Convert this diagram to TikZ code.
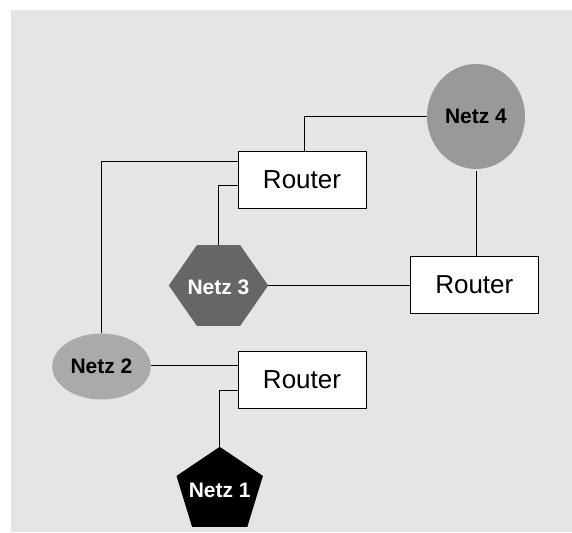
\documentclass[tikz,border=0pt]{standalone}
\usepackage{fontspec}
\setmainfont{Liberation Sans}
\usetikzlibrary{shapes.geometric,calc}
\definecolor{bggray}{HTML}{E5E5E5}
\definecolor{netzA}{HTML}{999999}
\definecolor{netzB}{HTML}{AAAAAA}
\definecolor{netzC}{HTML}{666666}
\tikzset{
  router/.style={draw=black, line width=0.9pt, fill=white, minimum width=128pt,
    minimum height=57pt, inner sep=0pt, font=\fontsize{26}{28}\selectfont},
  netzlabel/.style={font=\bfseries\fontsize{21}{23}\selectfont, inner sep=0pt},
  frame/.style={rectangle, inner sep=0pt},
  wire/.style={draw=black, line width=0.9pt}
}
\begin{document}
\begin{tikzpicture}[x=1pt,y=-1pt]
\useasboundingbox (0,0) rectangle (572,532);
\fill[bggray] (11,10.5) rectangle (572,532);

% routers
\node[router] (r1) at (302,179.5) {Router};
\node[router] (r2) at (474.3,285) {Router};
\node[router] (r3) at (302,380) {Router};

% Netz 4: round network
\node[ellipse, fill=netzA, minimum width=98pt, minimum height=105pt, inner sep=0pt,
      netzlabel] (n4) at (476,116.5) {Netz 4};

% Netz 2: oval network
\node[ellipse, fill=netzB, minimum width=98.5pt, minimum height=66pt, inner sep=0pt,
      netzlabel] (n2) at (101.5,366.5) {Netz 2};

% Netz 3: hexagon
\node[frame, minimum width=99pt, minimum height=80.5pt] (n3) at (218.5,285.5) {};
\fill[netzC] (n3.west) -- ($(n3.north west)!0.283!(n3.north east)$)
  -- ($(n3.north west)!0.717!(n3.north east)$) -- (n3.east)
  -- ($(n3.south west)!0.717!(n3.south east)$)
  -- ($(n3.south west)!0.283!(n3.south east)$) -- cycle;
\node[netzlabel, text=white] (t3) at ([yshift=-1.5pt]n3.center) {Netz 3};

% Netz 1: pentagon
\node[frame, minimum width=86pt, minimum height=79.6pt] (n1) at (219.7,486.8) {};
\fill[black] (n1.north)
  -- ($(n1.north east)!0.364!(n1.south east)$)
  -- ($(n1.south west)!0.82!(n1.south east)$)
  -- ($(n1.south west)!0.18!(n1.south east)$)
  -- ($(n1.north west)!0.364!(n1.south west)$) -- cycle;
\node[netzlabel, text=white] (t1) at ([yshift=-4pt]n1.center) {Netz 1};

% connections
\draw[wire] (n4.west) -| ([xshift=2.4pt]r1.north);
\draw[wire] ([yshift=-10.7pt]r1.north west) -| (n2.north);
\draw[wire] ([yshift=-6.3pt]r1.west) -| (n3.north);
\draw[wire] ([yshift=-2pt]n4.south) -- (n4.south |- r2.north);
\draw[wire] (n3.east) -- (n3.east -| r2.west);
\draw[wire] ([yshift=1.5pt]n2.east) -- ([yshift=1.5pt]n2.east -| r3.west);
\draw[wire] ([yshift=-10pt]r3.west) -| (n1.north);
\end{tikzpicture}
\end{document}
